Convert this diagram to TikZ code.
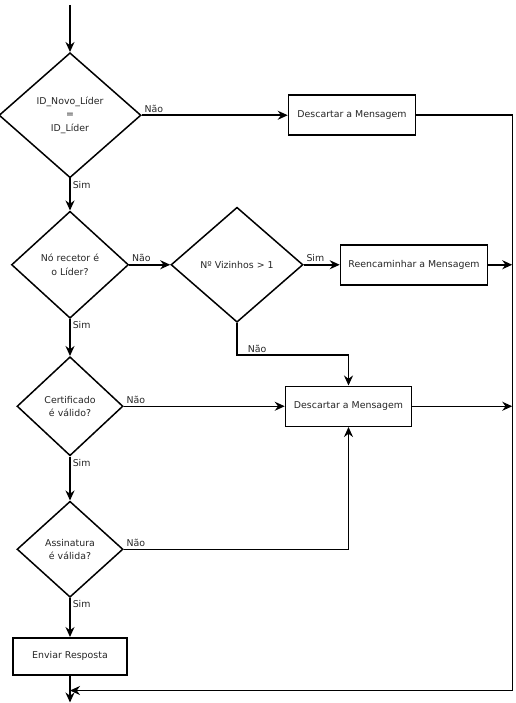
\documentclass[tikz,border=0pt]{standalone}
\usepackage{fontspec}
\setmainfont{DejaVu Sans}
\usetikzlibrary{arrows.meta,positioning,shapes.geometric}
\tikzset{decision/.style={
    % The shape:
    diamond,
    % The size:
    inner sep=0pt,
    % The border:
    line width=1.5pt,
    draw=black,
    fill=white,
    % Font
    font=\fontsize{9.4}{13.5}\selectfont,
    text=black!85,
    align=center,
    },
    process/.style={
    rectangle,
    minimum height=40pt,
    line width=1.5pt,
    draw=black,
    fill=white,
    font=\fontsize{9.4}{11}\selectfont,
    text=black!85,
    },
    lbl/.style={
    font=\fontsize{9.4}{11}\selectfont,
    text=black!85,
    inner sep=2pt,
    },
    flow/.style={
    line width=1.5pt,
    -{Stealth[length=10pt,width=9pt]},
    },
}

\begin{document}
\begin{tikzpicture}
    \useasboundingbox (0,0) rectangle (515pt,-703pt);
    \coordinate (start) at (70pt,-5pt);

    \node (lider)    [decision,minimum width=142pt,minimum height=125pt,below=47pt of start] {ID\_Novo\_Líder\\=\\ID\_Líder};
    \node (recetor)  [decision,minimum width=117pt,minimum height=107pt,below=32pt of lider]   {Nó recetor é\\o Líder?};
    \node (certif)   [decision,minimum width=106pt,minimum height=99pt,below=37pt of recetor]  {Certificado\\é válido?};
    \node (assin)    [decision,minimum width=106pt,minimum height=96pt,below=44pt of certif]   {Assinatura\\é válida?};
    \node (resp)     [process,minimum width=114pt,minimum height=37pt,below=39pt of assin]     {Enviar Resposta};
    \coordinate (end)  at ([yshift=-27pt]resp.south);
    \coordinate (join) at ([yshift=-15pt]resp.south);

    \node (desc1)    [process,minimum width=127pt,right=146pt of lider]    {Descartar a Mensagem};
    \node (vizinhos) [decision,minimum width=132pt,minimum height=115pt,right=41pt of recetor] {Nº Vizinhos > 1};
    \node (reenc)    [process,minimum width=147pt,right=36pt of vizinhos]  {Reencaminhar a Mensagem};
    \node (desc2)    [process,minimum width=126pt,right=161pt of certif]   {Descartar a Mensagem};
    \coordinate (rail) at ([xshift=96pt]desc1.east);

    % main column
    \draw[flow] (start) -- (lider);
    \draw[flow] (lider.south) -- node[lbl,pos=0,below right] (sim1) {Sim} (recetor.north);
    \draw[flow] (recetor.south) -- node[lbl,pos=0,below right] (sim2) {Sim} (certif.north);
    \draw[flow] (certif.south) -- node[lbl,pos=0,below right] (sim4) {Sim} (assin.north);
    \draw[flow] (assin.south) -- node[lbl,pos=0,below right] (sim5) {Sim} (resp.north);
    \draw[flow] (resp) -- (end);

    % branches
    \draw[flow] (lider.east) -- node[lbl,pos=0,above right] (nao1) {Não} (desc1.west);
    \draw[flow] (desc1.east) -- (rail) |- (join);
    \draw[flow] (recetor.east) -- node[lbl,pos=0,above right] (nao2) {Não} (vizinhos.west);
    \draw[flow] (vizinhos.east) -- node[lbl,pos=0,above right] (sim3) {Sim} (reenc.west);
    \draw[flow] (reenc.east) -- (reenc.east -| rail);
    \draw[flow] (vizinhos.south) -- ++(0,-32pt) node[lbl,above right,xshift=8pt] (nao3) {Não} -| (desc2.north);
    \draw[flow] (certif.east) -- node[lbl,pos=0,above right] (nao4) {Não} (desc2.west);
    \draw[flow] (assin.east) -| node[lbl,pos=0,above right] (nao5) {Não} (desc2.south);
    \draw[flow] (desc2.east) -- (desc2.east -| rail);
\end{tikzpicture}
\end{document}
